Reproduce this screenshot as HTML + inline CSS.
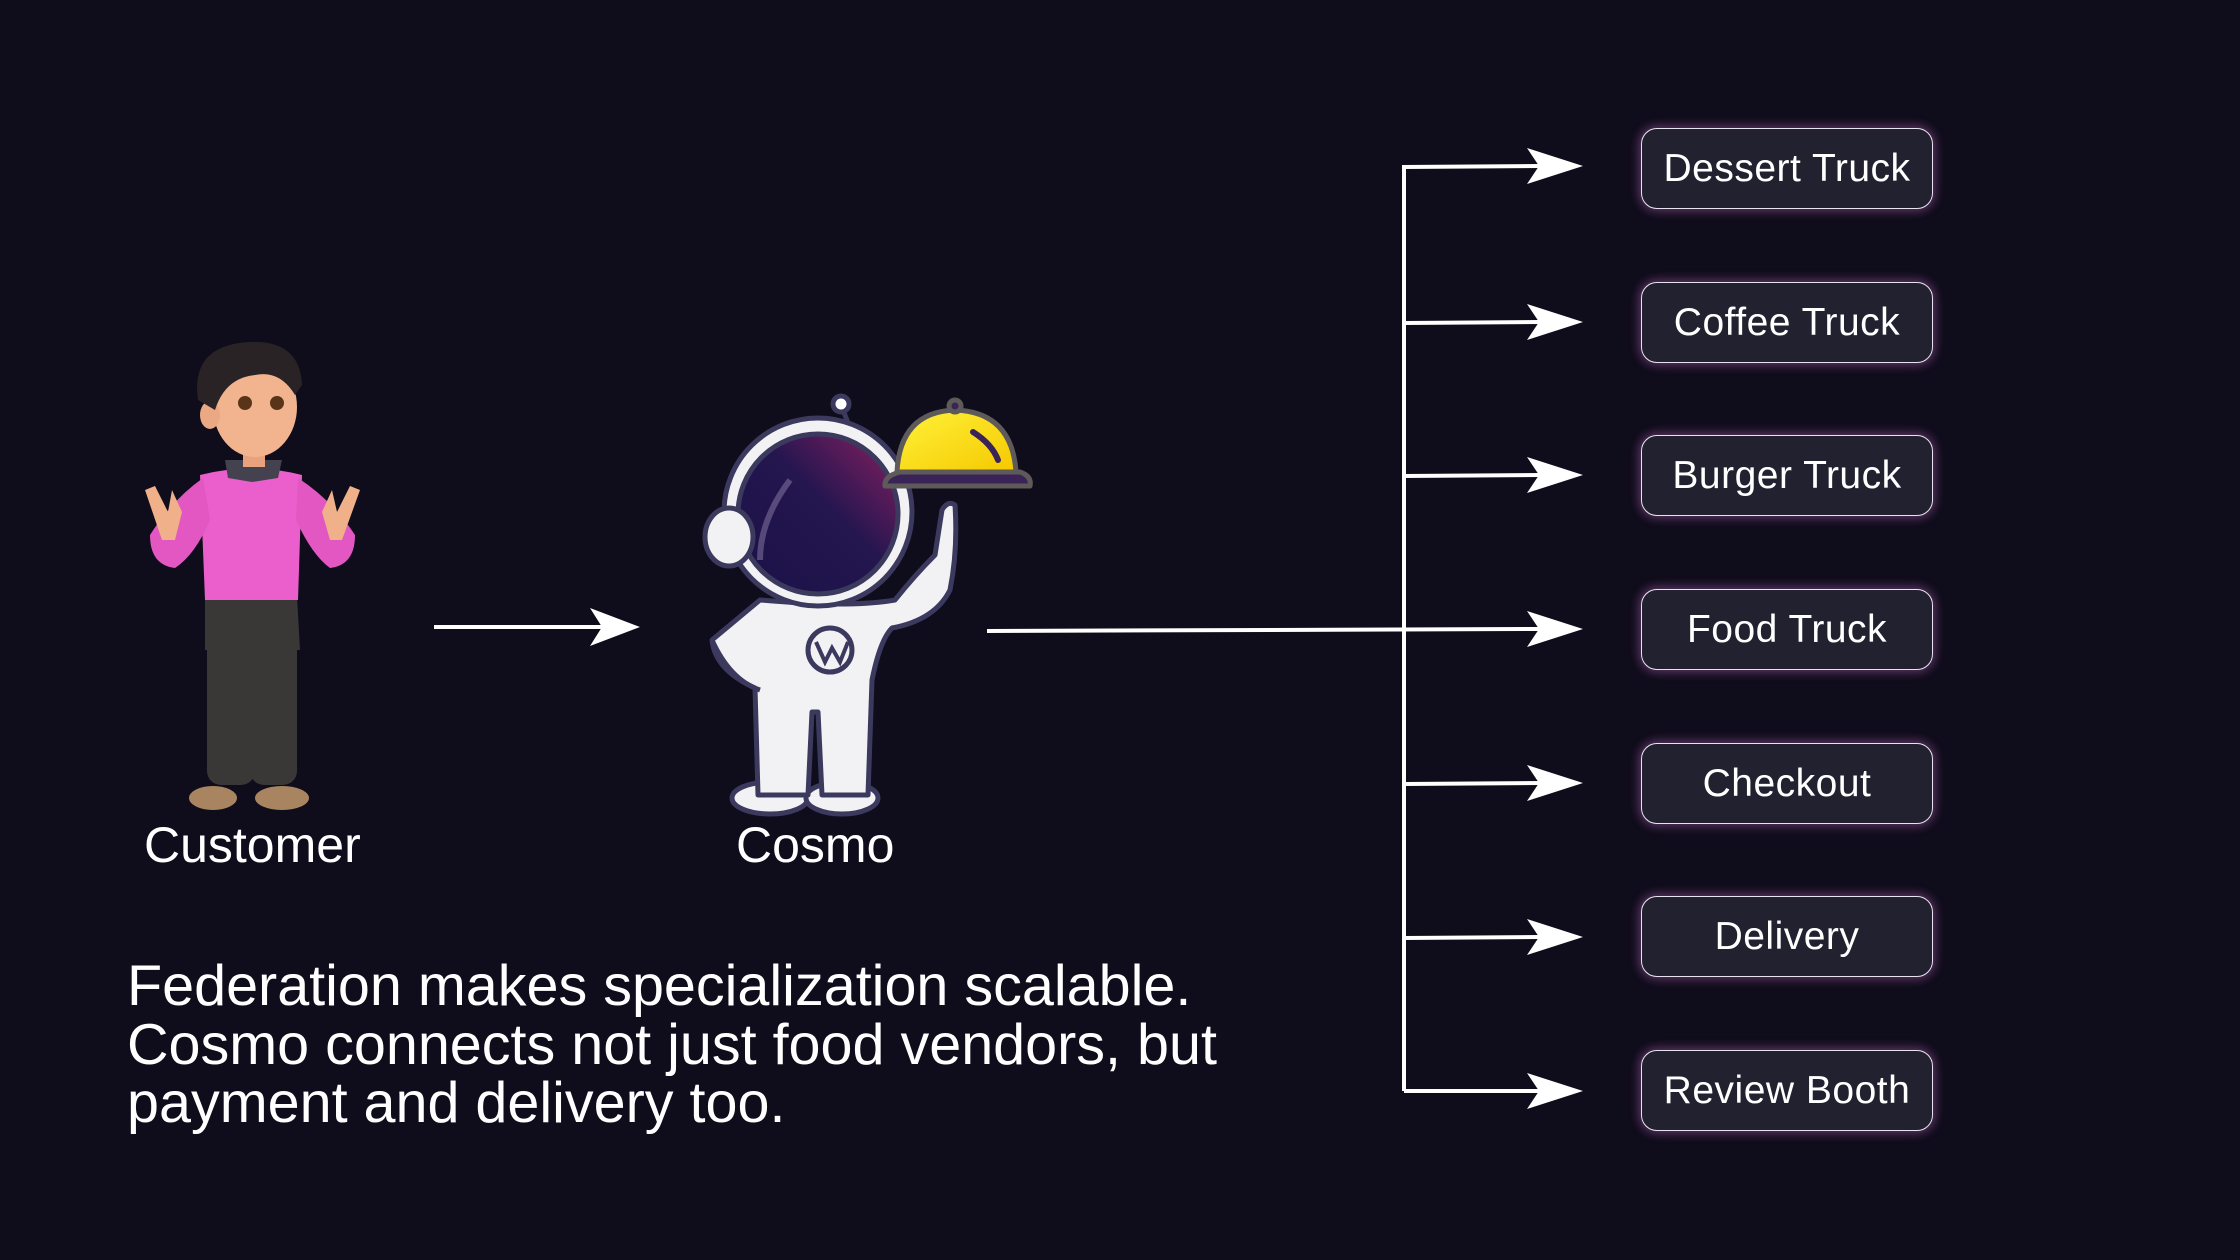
<!DOCTYPE html>
<html><head><meta charset="utf-8"><style>
html,body{margin:0;padding:0;background:#0f0c1b;}
body{width:2240px;height:1260px;position:relative;overflow:hidden;font-family:"Liberation Sans",sans-serif;color:#fff;}
.box{position:absolute;left:1641px;width:290px;height:79px;border:1.5px solid #e8e3ee;border-radius:16px;background:#22212f;box-shadow:0 0 10px 2px rgba(200,110,200,0.45);display:flex;align-items:center;justify-content:center;font-size:39px;letter-spacing:0.5px;}
.lbl{position:absolute;font-size:50px;line-height:1;}
.para{position:absolute;left:127px;top:957px;font-size:57.5px;line-height:58.5px;white-space:nowrap;}
svg{position:absolute;left:0;top:0;}
</style></head><body>
<svg width="2240" height="1260" viewBox="0 0 2240 1260">
  <defs>
    <linearGradient id="visor" x1="0" y1="1" x2="1" y2="0">
      <stop offset="0" stop-color="#1b1147"/><stop offset="0.55" stop-color="#24164f"/><stop offset="1" stop-color="#8a1f62"/>
    </linearGradient>
    <linearGradient id="dome" x1="0" y1="0" x2="1" y2="1">
      <stop offset="0" stop-color="#fff23a"/><stop offset="1" stop-color="#f5c800"/>
    </linearGradient>
  </defs>
  <g stroke="#fff" stroke-width="4" fill="none">
    <line x1="434" y1="627" x2="605" y2="627"/>
    <line x1="987" y1="631" x2="1540" y2="629"/>
    <polyline points="1404,1091 1404,167 1540,166"/>
    <line x1="1404" y1="323" x2="1540" y2="322"/>
    <line x1="1404" y1="476" x2="1540" y2="475"/>
    <line x1="1404" y1="784" x2="1540" y2="783"/>
    <line x1="1404" y1="938" x2="1540" y2="937"/>
    <line x1="1404" y1="1091" x2="1540" y2="1091"/>
  </g>
  <g fill="#fff">
    <polygon points="640,627 590,608 602,627 590,646"/>
    <polygon points="1583,166 1527,148 1539,166 1527,184"/>
    <polygon points="1583,322 1527,304 1539,322 1527,340"/>
    <polygon points="1583,475 1527,457 1539,475 1527,493"/>
    <polygon points="1583,629 1527,611 1539,629 1527,647"/>
    <polygon points="1583,783 1527,765 1539,783 1527,801"/>
    <polygon points="1583,937 1527,919 1539,937 1527,955"/>
    <polygon points="1583,1091 1527,1073 1539,1091 1527,1109"/>
  </g>
  <!-- customer -->
  <g>
    <rect x="207" y="600" width="48" height="185" rx="14" fill="#3a3836"/>
    <rect x="250" y="600" width="47" height="185" rx="14" fill="#3a3836"/>
    <path d="M205 596 L297 596 L300 650 L205 650 Z" fill="#3a3836"/>
    <ellipse cx="213" cy="798" rx="24" ry="12" fill="#a88560"/>
    <ellipse cx="282" cy="798" rx="27" ry="12" fill="#a88560"/>
    <path d="M200 475 Q250 462 302 475 L298 600 L205 600 Z" fill="#ea5fcb"/>
    <path d="M203 478 Q172 500 150 535 Q150 565 175 568 Q195 555 210 520 Z" fill="#e257c2"/>
    <path d="M298 478 Q332 500 355 535 Q355 565 330 568 Q312 555 296 520 Z" fill="#e257c2"/>
    <path d="M162 540 L145 490 L155 486 L168 512 L172 490 L182 512 L175 540 Z" fill="#f0b08a"/>
    <path d="M342 540 L360 490 L350 486 L337 512 L332 490 L322 512 L330 540 Z" fill="#f0b08a"/>
    <path d="M225 460 L282 460 L278 478 L252 482 L228 478 Z" fill="#45424f"/>
    <rect x="243" y="445" width="22" height="22" fill="#e8a27e"/>
    <ellipse cx="255" cy="407" rx="42" ry="50" fill="#f1b48e"/>
    <ellipse cx="210" cy="415" rx="10" ry="14" fill="#eaa884"/>
    <path d="M198 400 Q190 345 250 342 Q300 340 302 385 L295 395 Q280 370 255 375 Q225 378 215 410 Z" fill="#2a2325"/>
    <circle cx="245" cy="403" r="7" fill="#5a3418"/><circle cx="277" cy="403" r="7" fill="#5a3418"/>
  </g>
  <!-- cosmo -->
  <g stroke="#3b3a5e" stroke-width="5" stroke-linejoin="round">
    <line x1="850" y1="428" x2="841" y2="405" />
    <circle cx="841" cy="404" r="8" fill="#fff"/>
    <ellipse cx="770" cy="798" rx="38" ry="16" fill="#f2f2f4"/>
    <ellipse cx="842" cy="798" rx="36" ry="16" fill="#f2f2f4"/>
    <path d="M760 600 Q730 625 712 640 Q715 670 755 688 L758 795 L808 795 L812 712 L818 712 L822 795 L868 795 L872 680 Q880 640 892 628 Q935 620 950 590 Q958 550 955 505 Q948 500 942 510 L935 555 Q915 575 895 600 Q850 608 760 600 Z" fill="#f2f2f4"/>
    <path d="M712 640 Q730 680 760 690" fill="none"/>
    <circle cx="818" cy="512" r="94" fill="#f2f2f4"/>
    <circle cx="818" cy="514" r="80" fill="url(#visor)"/>
    <ellipse cx="729" cy="537" rx="24" ry="29" fill="#f2f2f4"/>
    <path d="M885 486 L1030 486 Q1032 476 1020 472 L900 472 Q884 476 885 486 Z" fill="#3a2356" stroke="#5e5a5a"/>
    <path d="M897 472 Q900 412 955 410 Q1012 412 1016 472 Z" fill="url(#dome)" stroke="#5e5a5a"/>
    <circle cx="955" cy="406" r="6" fill="#3a2356" stroke="#5e5a5a"/>
  </g>
  <path d="M760 560 Q760 520 790 480" stroke="#d8c6e8" stroke-opacity="0.3" stroke-width="6" fill="none"/>
  <path d="M973 432 Q992 444 998 460" stroke="#3a2356" stroke-width="6" fill="none" stroke-linecap="round"/>
  <circle cx="830" cy="650" r="22" fill="none" stroke="#3b3a5e" stroke-width="5"/>
  <path d="M816 642 L825 662 L832 648 L840 662 L848 642" fill="none" stroke="#3b3a5e" stroke-width="4"/>
</svg>
<div class="box" style="top:128px">Dessert Truck</div>
<div class="box" style="top:282px">Coffee Truck</div>
<div class="box" style="top:435px">Burger Truck</div>
<div class="box" style="top:589px">Food Truck</div>
<div class="box" style="top:743px">Checkout</div>
<div class="box" style="top:896px">Delivery</div>
<div class="box" style="top:1050px">Review Booth</div>
<div class="lbl" style="left:144px;top:820px">Customer</div>
<div class="lbl" style="left:736px;top:820px">Cosmo</div>
<div class="para">Federation makes specialization scalable.<br>Cosmo connects not just food vendors, but<br>payment and delivery too.</div>
</body></html>
